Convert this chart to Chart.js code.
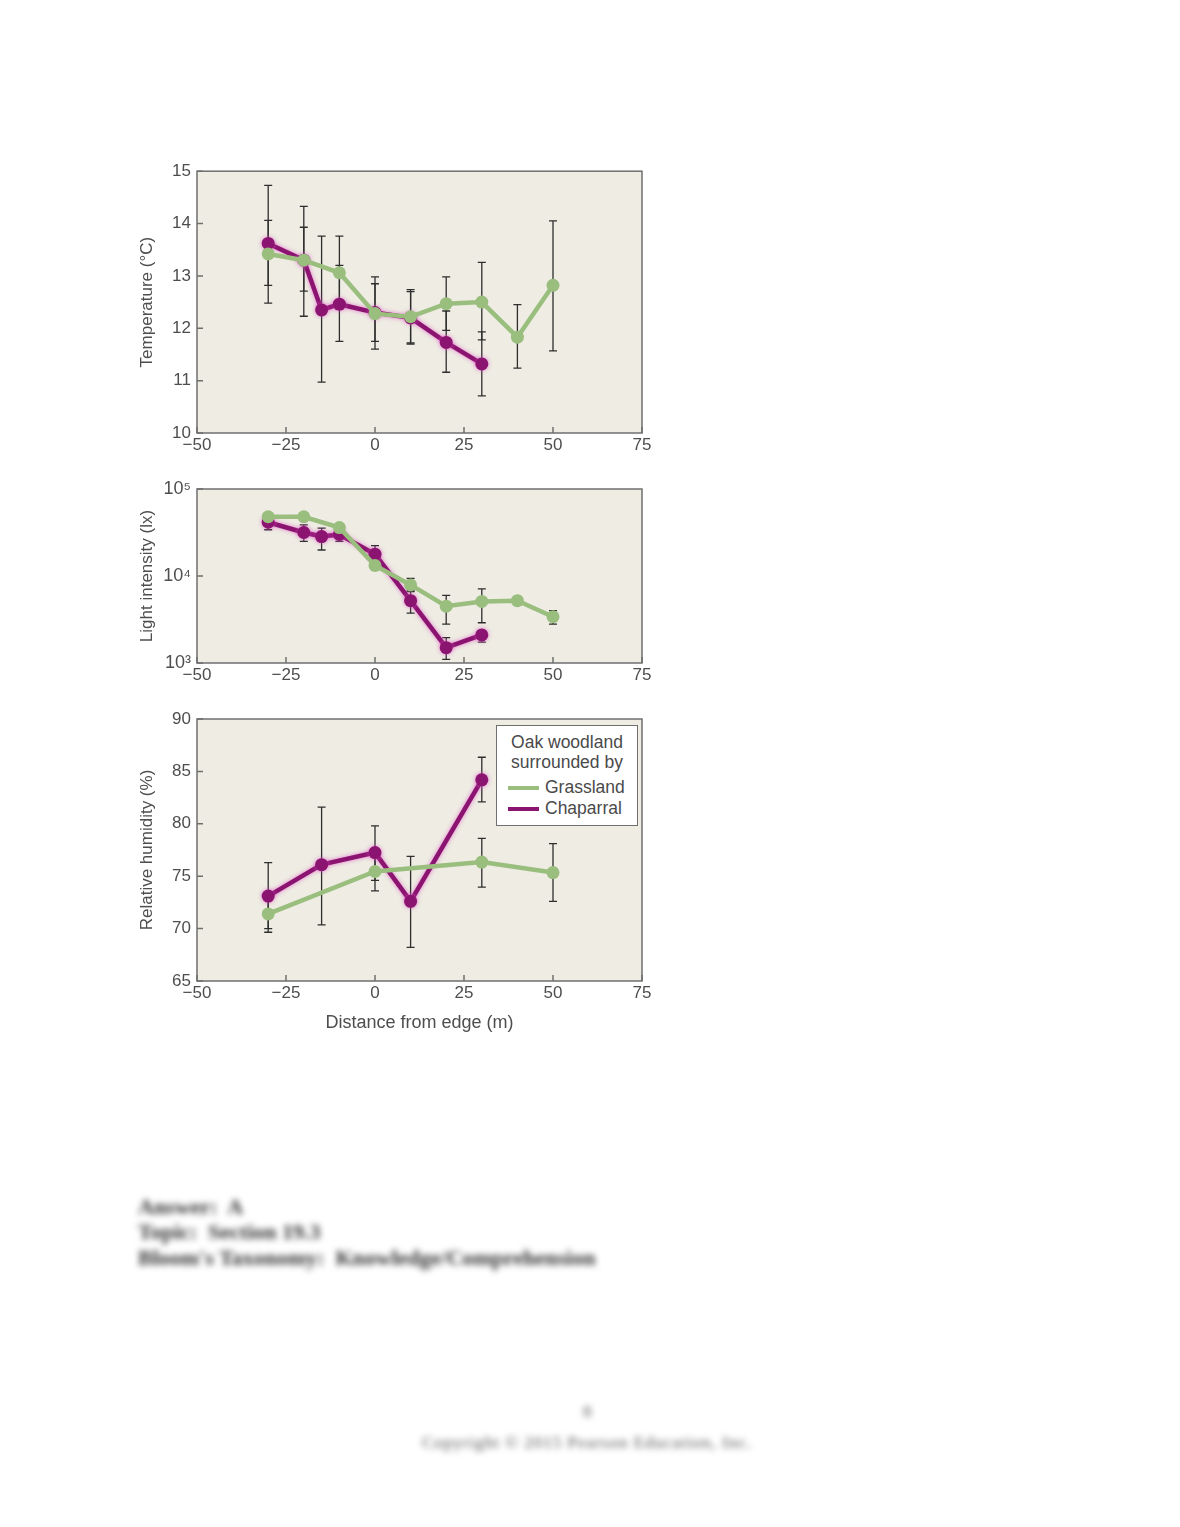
<!DOCTYPE html>
<html>
<head>
<meta charset="utf-8">
<script src="https://cdn.jsdelivr.net/npm/chart.js@4.4.1/dist/chart.umd.min.js"></script>
<style>
  body { margin: 0; background: #fff; font-family: "Liberation Sans", Arial, sans-serif; }
  #page { position: relative; width: 1180px; height: 1527px; }
  .panel { position: absolute; left: 130px; width: 530px; }
  #legend { position: absolute; left: 496px; top: 725px; width: 140px; height: 99px;
            background: #fff; border: 1.5px solid #707070; color: #4a4a4a; font-size: 17.5px; }
  #legend .head { text-align: center; line-height: 20px; margin-top: 6px; }
  #legend .row { position: absolute; left: 11px; height: 21px; line-height: 21px; white-space: nowrap; }
  #legend .swatch { display: inline-block; width: 31px; height: 4px; vertical-align: middle; margin-right: 6px; }
  .blur { position: absolute; font-family: "Liberation Serif", serif; color: #333; filter: blur(3px); white-space: nowrap; }
</style>
</head>
<body>
<div id="page">
  <div class="panel" style="top:155px;height:304px"><canvas id="tempChart"></canvas></div>
  <div class="panel" style="top:470px;height:219px"><canvas id="lightChart"></canvas></div>
  <div class="panel" style="top:700px;height:336px"><canvas id="humChart"></canvas></div>

  <div id="legend">
    <div class="head">Oak woodland<br>surrounded by</div>
    <div class="row" style="top:51px"><span class="swatch" style="background:#9abe7e"></span>Grassland</div>
    <div class="row" style="top:72px"><span class="swatch" style="background:#8b1470"></span>Chaparral</div>
  </div>

  <div class="blur" style="left:138px;top:1194px;font-size:22px;font-weight:bold">Answer:&nbsp; A</div>
  <div class="blur" style="left:138px;top:1219px;font-size:22px;font-weight:bold">Topic:&nbsp; Section 19.3</div>
  <div class="blur" style="left:138px;top:1245px;font-size:22px;font-weight:bold">Bloom's Taxonomy:&nbsp; Knowledge/Comprehension</div>
  <div class="blur" style="left:583px;top:1402px;font-size:17px;color:#555">8</div>
  <div class="blur" style="left:422px;top:1433px;font-size:17px;letter-spacing:1px;color:#555">Copyright © 2015 Pearson Education, Inc.</div>
</div>

<script>
// Temperature (°C)
const tempGrassX = [-30, -20, -10, 0, 10, 20, 30, 40, 50];
const tempGrassY = [13.42, 13.3, 13.06, 12.28, 12.22, 12.47, 12.5, 11.83, 12.82];
const tempGrassHi = [14.06, 14.33, 13.76, 12.98, 12.74, 12.98, 13.26, 12.45, 14.05];
const tempGrassLo = [12.82, 12.23, 12.36, 11.6, 11.7, 11.96, 11.78, 11.24, 11.57];

const tempChapX = [-30, -20, -15, -10, 0, 10, 20, 30];
const tempChapY = [13.62, 13.3, 12.35, 12.46, 12.3, 12.2, 11.73, 11.32];
const tempChapHi = [14.73, 13.93, 13.76, 13.2, 12.85, 12.7, 12.33, 11.93];
const tempChapLo = [12.48, 12.71, 10.97, 11.75, 11.75, 11.72, 11.16, 10.71];

// Light intensity (lx)
const lightGrassX = [-30, -20, -10, 0, 10, 20, 30, 40, 50];
const lightGrassY = [48000, 48000, 36000, 13200, 7900, 4500, 5100, 5200, 3400];
const lightGrassHi = [52000, 51000, 39000, 14700, 9400, 6000, 7100, 5800, 4000];
const lightGrassLo = [44000, 45000, 33000, 11800, 6600, 2800, 2900, 4600, 2800];

const lightChapX = [-30, -20, -15, -10, 0, 10, 20, 30];
const lightChapY = [41500, 31600, 28400, 30000, 17800, 5200, 1500, 2100];
const lightChapHi = [44000, 38700, 35500, 33600, 22300, 6800, 1960, 2290];
const lightChapLo = [34000, 25000, 19900, 25000, 15900, 3740, 1100, 1740];

// Relative humidity (%)
const humGrassX = [-30, 0, 30, 50];
const humGrassY = [71.4, 75.45, 76.35, 75.35];
const humGrassHi = [73.2, 77.4, 78.6, 78.1];
const humGrassLo = [69.65, 73.6, 73.95, 72.6];

const humChapX = [-30, -15, 0, 10, 30];
const humChapY = [73.1, 76.1, 77.25, 72.6, 84.2];
const humChapHi = [76.3, 81.6, 79.8, 76.9, 86.35];
const humChapLo = [70.0, 70.35, 74.6, 68.2, 82.1];

// Axes
const xTicks = [-50, -25, 0, 25, 50, 75];
const tempTicks = [10, 11, 12, 13, 14, 15];
const lightTicks = [1000, 10000, 100000];
const lightTickLabels = ['10³', '10⁴', '10⁵'];
const humTicks = [65, 70, 75, 80, 85, 90];

const GREEN = '#9abe7e';
const PURPLE = '#8b1470';
const TEXT = '#4e4e4e';
const FONT = '"Liberation Sans", Arial, sans-serif';

function series(xs, ys, hi, lo, color, label, halo) {
    return {
        label: label,
        data: xs.map((x, i) => ({ x: x, y: ys[i] })),
        errHi: hi,
        errLo: lo,
        borderColor: color,
        backgroundColor: color,
        pointBackgroundColor: color,
        pointBorderColor: color,
        borderWidth: 4.5,
        pointRadius: 6.5,
        pointBorderWidth: 0,
        tension: 0,
        halo: halo
    };
}

function minus(v) {
    return v < 0 ? '\u2212' + Math.abs(v) : String(v);
}

// plot background, frame and inward tick marks
const framePlugin = {
    id: 'frame',
    beforeDraw(chart) {
        const a = chart.chartArea;
        const ctx = chart.ctx;
        ctx.save();
        ctx.fillStyle = '#eeece3';
        ctx.fillRect(a.left, a.top, a.right - a.left, a.bottom - a.top);
        ctx.restore();
    },
    afterDatasetsDraw(chart) {
        const a = chart.chartArea;
        const ctx = chart.ctx;
        ctx.save();
        ctx.strokeStyle = '#6f6f6f';
        ctx.lineWidth = 1.5;
        ctx.strokeRect(a.left, a.top, a.right - a.left, a.bottom - a.top);
        ctx.beginPath();
        chart.scales.x.ticks.forEach(t => {
            const px = chart.scales.x.getPixelForValue(t.value);
            ctx.moveTo(px, a.bottom);
            ctx.lineTo(px, a.bottom - 6);
        });
        chart.scales.y.ticks.forEach(t => {
            const py = chart.scales.y.getPixelForValue(t.value);
            ctx.moveTo(a.left, py);
            ctx.lineTo(a.left + 6, py);
        });
        ctx.stroke();
        ctx.restore();
    }
};

// vertical error bars drawn under the lines
const errorBarPlugin = {
    id: 'errorBars',
    beforeDatasetsDraw(chart) {
        const ctx = chart.ctx;
        const xs = chart.scales.x, ys = chart.scales.y;
        ctx.save();
        ctx.strokeStyle = '#2e2e2e';
        ctx.lineWidth = 1.3;
        chart.data.datasets.forEach(ds => {
            ds.data.forEach((p, i) => {
                const px = xs.getPixelForValue(p.x);
                const top = ys.getPixelForValue(ds.errHi[i]);
                const bot = ys.getPixelForValue(ds.errLo[i]);
                ctx.beginPath();
                ctx.moveTo(px, top);
                ctx.lineTo(px, bot);
                ctx.moveTo(px - 4, top);
                ctx.lineTo(px + 4, top);
                ctx.moveTo(px - 4, bot);
                ctx.lineTo(px + 4, bot);
                ctx.stroke();
            });
        });
        ctx.restore();
    },
    beforeDatasetDraw(chart, args) {
        const ds = chart.data.datasets[args.index];
        chart.ctx.save();
        if (ds.halo) {
            chart.ctx.shadowColor = 'rgba(225, 80, 200, 0.75)';
            chart.ctx.shadowBlur = 4;
        }
    },
    afterDatasetDraw(chart) {
        chart.ctx.restore();
    }
};

function makePanel(id, datasets, yOpts, yTitle, padTop, xHeight, xTitle) {
    const ctx = document.getElementById(id).getContext('2d');
    return new Chart(ctx, {
        type: 'line',
        data: { datasets: datasets },
        plugins: [framePlugin, errorBarPlugin],
        options: {
            responsive: true,
            maintainAspectRatio: false,
            animation: false,
            layout: { padding: { left: 0, right: 18, top: padTop, bottom: 0 } },
            plugins: { legend: { display: false }, tooltip: { enabled: false } },
            scales: {
                x: {
                    type: 'linear',
                    min: -50,
                    max: 75,
                    afterBuildTicks: scale => { scale.ticks = xTicks.map(v => ({ value: v })); },
                    afterFit: scale => { scale.height = xHeight; },
                    grid: { display: false, drawTicks: false },
                    border: { display: false },
                    ticks: {
                        padding: 2,
                        maxRotation: 0,
                        color: TEXT,
                        font: { family: FONT, size: 17 },
                        callback: v => minus(v)
                    },
                    title: {
                        display: !!xTitle,
                        text: xTitle || '',
                        color: TEXT,
                        font: { family: FONT, size: 18 },
                        padding: { top: 0, bottom: 2 }
                    }
                },
                y: Object.assign({
                    afterFit: scale => { scale.width = 67; },
                    grid: { display: false, drawTicks: false },
                    border: { display: false },
                    title: {
                        display: true,
                        text: yTitle,
                        color: TEXT,
                        font: { family: FONT, size: 17 },
                        padding: { top: 7, bottom: 0 }
                    }
                }, yOpts)
            }
        }
    });
}

const tickFont = { family: FONT, size: 17 };

makePanel('tempChart', [
    series(tempGrassX, tempGrassY, tempGrassHi, tempGrassLo, GREEN, 'Grassland', false),
    series(tempChapX, tempChapY, tempChapHi, tempChapLo, PURPLE, 'Chaparral', true)
], {
    type: 'linear', min: 10, max: 15,
    afterBuildTicks: scale => { scale.ticks = tempTicks.map(v => ({ value: v })); },
    ticks: { padding: 6, color: TEXT, font: tickFont }
}, 'Temperature (°C)', 16, 26, null);

makePanel('lightChart', [
    series(lightGrassX, lightGrassY, lightGrassHi, lightGrassLo, GREEN, 'Grassland', false),
    series(lightChapX, lightChapY, lightChapHi, lightChapLo, PURPLE, 'Chaparral', true)
], {
    type: 'logarithmic', min: 1000, max: 100000,
    afterBuildTicks: scale => { scale.ticks = lightTicks.map(v => ({ value: v })); },
    ticks: {
        padding: 6, color: TEXT, font: { family: FONT, size: 18 },
        callback: v => lightTickLabels[lightTicks.indexOf(v)]
    }
}, 'Light intensity (lx)', 19, 26, null);

makePanel('humChart', [
    series(humGrassX, humGrassY, humGrassHi, humGrassLo, GREEN, 'Grassland', false),
    series(humChapX, humChapY, humChapHi, humChapLo, PURPLE, 'Chaparral', true)
], {
    type: 'linear', min: 65, max: 90,
    afterBuildTicks: scale => { scale.ticks = humTicks.map(v => ({ value: v })); },
    ticks: { padding: 6, color: TEXT, font: tickFont }
}, 'Relative humidity (%)', 19, 55, 'Distance from edge (m)');
</script>
</body>
</html>
